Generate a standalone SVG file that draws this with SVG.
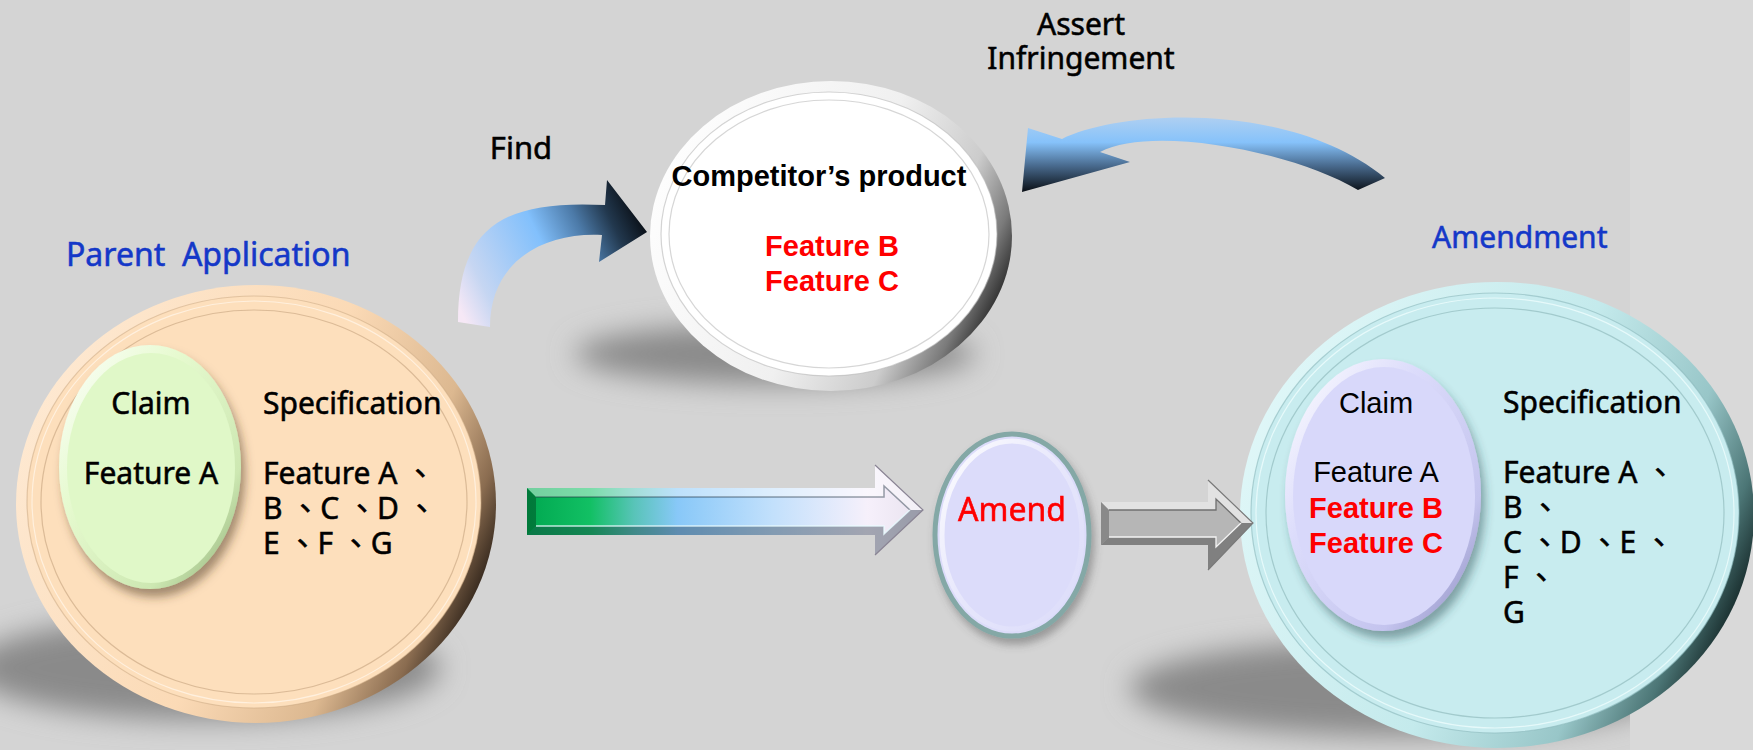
<svg xmlns="http://www.w3.org/2000/svg" width="1753" height="750" viewBox="0 0 1753 750">
<style>
  .sans{font-family:'Noto Sans','Noto Sans CJK TC',sans-serif;fill:#000;stroke:#000;stroke-width:0.55}
  .arial{font-family:'Liberation Sans',Arial,'Noto Sans CJK TC',sans-serif;fill:#000}
  .head{font-size:32px;fill:#1438c8;stroke:#1438c8}
  .lbl{font-size:30px}
  .bold{font-weight:bold}
  .red{fill:#ff0000;stroke:#ff0000}
  .arial.red{stroke:none}
  .mid{text-anchor:middle}
  .ring{fill:none;stroke-width:1.2}
  .shadow{fill:#8a8a8a}
</style>
<defs>
  <filter id="blur" x="-40%" y="-150%" width="180%" height="400%">
    <feGaussianBlur stdDeviation="14"/>
  </filter>
  <filter id="dropWarm" x="-20%" y="-20%" width="150%" height="150%">
    <feDropShadow dx="4" dy="8" stdDeviation="5" flood-color="#4a3820" flood-opacity="0.5"/>
  </filter>
  <filter id="dropCool" x="-20%" y="-20%" width="150%" height="150%">
    <feDropShadow dx="4" dy="8" stdDeviation="5" flood-color="#27474a" flood-opacity="0.45"/>
  </filter>
  <filter id="dropSmall" x="-20%" y="-20%" width="150%" height="150%">
    <feDropShadow dx="3" dy="6" stdDeviation="4" flood-color="#505050" flood-opacity="0.45"/>
  </filter>

  <!-- rim shading: light at upper left, dark at lower right -->
  <linearGradient id="rimPeach" x1="0" y1="0.2" x2="1" y2="0.6">
    <stop offset="0" stop-color="#feead4"/>
    <stop offset="0.55" stop-color="#fbdab6"/>
    <stop offset="0.8" stop-color="#dcb890"/>
    <stop offset="0.93" stop-color="#8a6c50"/>
    <stop offset="1" stop-color="#3a2c20"/>
  </linearGradient>
  <linearGradient id="rimWhite" x1="0" y1="0.2" x2="1" y2="0.6">
    <stop offset="0" stop-color="#ffffff"/>
    <stop offset="0.55" stop-color="#f0f0f0"/>
    <stop offset="0.8" stop-color="#cccccc"/>
    <stop offset="0.93" stop-color="#7a7a7a"/>
    <stop offset="1" stop-color="#353535"/>
  </linearGradient>
  <linearGradient id="rimCyan" x1="0" y1="0.2" x2="1" y2="0.6">
    <stop offset="0" stop-color="#e2f8f9"/>
    <stop offset="0.55" stop-color="#c4eaec"/>
    <stop offset="0.8" stop-color="#98c6c8"/>
    <stop offset="0.93" stop-color="#4c7676"/>
    <stop offset="1" stop-color="#1c3232"/>
  </linearGradient>
  <linearGradient id="rimGreen" x1="0" y1="0" x2="1" y2="1">
    <stop offset="0" stop-color="#ffffff"/>
    <stop offset="0.35" stop-color="#e6facf"/>
    <stop offset="0.75" stop-color="#cde8b2"/>
    <stop offset="1" stop-color="#88a870"/>
  </linearGradient>
  <linearGradient id="rimLilac" x1="0" y1="0" x2="1" y2="1">
    <stop offset="0" stop-color="#ffffff"/>
    <stop offset="0.35" stop-color="#dcdcfb"/>
    <stop offset="0.75" stop-color="#c4c4ee"/>
    <stop offset="1" stop-color="#8484b8"/>
  </linearGradient>
  <linearGradient id="glint" x1="0" y1="0" x2="1" y2="1">
    <stop offset="0" stop-color="#ffffff" stop-opacity="0.95"/>
    <stop offset="0.5" stop-color="#ffffff" stop-opacity="0.3"/>
    <stop offset="1" stop-color="#ffffff" stop-opacity="0"/>
  </linearGradient>

  <!-- connector fills -->
  <linearGradient id="gradFind" gradientUnits="userSpaceOnUse" x1="460" y1="310" x2="645" y2="220">
    <stop offset="0" stop-color="#f6e8f6"/>
    <stop offset="0.15" stop-color="#c6d6f2"/>
    <stop offset="0.5" stop-color="#82c0fc"/>
    <stop offset="0.7" stop-color="#4c7aa8"/>
    <stop offset="0.85" stop-color="#22384e"/>
    <stop offset="1" stop-color="#080c12"/>
  </linearGradient>
  <linearGradient id="gradAssert" gradientUnits="userSpaceOnUse" x1="0" y1="110" x2="0" y2="195">
    <stop offset="0.03" stop-color="#b6d2f0"/>
    <stop offset="0.38" stop-color="#86c2fa"/>
    <stop offset="0.65" stop-color="#4a6c90"/>
    <stop offset="0.97" stop-color="#080c12"/>
  </linearGradient>
  <linearGradient id="gradBar" gradientUnits="userSpaceOnUse" x1="527" y1="0" x2="923" y2="0">
    <stop offset="0" stop-color="#00a850"/>
    <stop offset="0.16" stop-color="#12c064"/>
    <stop offset="0.27" stop-color="#58c4b8"/>
    <stop offset="0.38" stop-color="#88c8f8"/>
    <stop offset="0.62" stop-color="#c2e0fc"/>
    <stop offset="0.86" stop-color="#f6f0fb"/>
    <stop offset="1" stop-color="#e8e2ee"/>
  </linearGradient>
</defs>

<!-- backdrop -->
<rect width="1753" height="750" fill="#d4d4d4"/>

<!-- cast shadows -->
<g id="shadows" filter="url(#blur)">
  <ellipse class="shadow" cx="205" cy="668" rx="235" ry="52"/>
  <ellipse class="shadow" cx="775" cy="354" rx="200" ry="30"/>
  <ellipse class="shadow" cx="1400" cy="688" rx="270" ry="48"/>
</g>
<rect x="1630" y="0" width="123" height="750" fill="#d9d9d9"/>

<!-- Parent application disc -->
<g id="parent-application">
  <ellipse cx="256" cy="504" rx="240" ry="219" fill="url(#rimPeach)"/>
  <ellipse cx="254" cy="502" rx="227" ry="206" fill="#fddfbc" stroke="#c8a680" stroke-opacity="0.5" stroke-width="1.2"/>
  <ellipse class="ring" cx="254" cy="502" rx="222" ry="201" stroke="#fff4e6" stroke-opacity="0.8"/>
  <ellipse class="ring" cx="254" cy="502" rx="213" ry="192" stroke="#c09c78" stroke-opacity="0.55"/>
  <g id="parent-claim" filter="url(#dropWarm)">
    <ellipse cx="150" cy="467" rx="91" ry="122" fill="url(#rimGreen)"/>
    <ellipse cx="151" cy="468" rx="84" ry="115" fill="#e0f8c8"/>
  </g>
  <text class="sans head" x="66" y="266" style="white-space:pre">Parent  Application</text>
  <text class="sans lbl mid" x="151" y="414">Claim</text>
  <text class="sans lbl mid" x="151" y="484">Feature A</text>
  <text class="sans lbl" x="263" y="414">Specification</text>
  <text class="sans lbl" x="263" y="484">Feature A 、</text>
  <text class="sans lbl" x="263" y="519">B 、C 、D 、</text>
  <text class="sans lbl" x="263" y="554">E 、F 、G</text>
</g>

<!-- Competitor's product disc -->
<g id="competitor">
  <ellipse cx="831" cy="236" rx="181" ry="155" fill="url(#rimWhite)"/>
  <ellipse cx="829" cy="234" rx="168" ry="142" fill="#ffffff" stroke="#b8b8b8" stroke-opacity="0.6" stroke-width="1.2"/>
  <ellipse class="ring" cx="829" cy="234" rx="160" ry="134" stroke="#c4c4c4" stroke-opacity="0.7"/>
  <text class="arial bold mid" x="819" y="186" font-size="29">Competitor’s product</text>
  <text class="arial bold red mid" x="832" y="256" font-size="29">Feature B</text>
  <text class="arial bold red mid" x="832" y="291" font-size="29">Feature C</text>
</g>

<!-- Amend step -->
<g id="amend" filter="url(#dropSmall)">
  <ellipse cx="1012" cy="535" rx="77" ry="101" fill="#dcdcfa" stroke="#84a8a6" stroke-width="5"/>
  <ellipse cx="1012" cy="535" rx="70" ry="94" fill="none" stroke="url(#glint)" stroke-width="5"/>
  <text class="sans red mid" x="1012" y="521" font-size="32">Amend</text>
</g>

<!-- Amendment disc -->
<g id="amendment">
  <ellipse cx="1497" cy="515" rx="257" ry="233" fill="url(#rimCyan)"/>
  <ellipse cx="1495" cy="513" rx="244" ry="220" fill="#c8ecef" stroke="#8ab8ba" stroke-opacity="0.6" stroke-width="1.2"/>
  <ellipse class="ring" cx="1495" cy="513" rx="239" ry="215" stroke="#eefcfc" stroke-opacity="0.8"/>
  <ellipse class="ring" cx="1495" cy="513" rx="229" ry="205" stroke="#88b4b6" stroke-opacity="0.6"/>
  <g id="amendment-claim" filter="url(#dropCool)">
    <ellipse cx="1383" cy="495" rx="98" ry="136" fill="url(#rimLilac)"/>
    <ellipse cx="1384" cy="496" rx="91" ry="129" fill="#d8d8fa"/>
  </g>
  <text class="sans head" x="1432" y="248" style="font-size:30px">Amendment</text>
  <text class="arial mid" x="1376" y="413" font-size="29">Claim</text>
  <text class="arial mid" x="1376" y="482" font-size="29">Feature A</text>
  <text class="arial bold red mid" x="1376" y="518" font-size="29">Feature B</text>
  <text class="arial bold red mid" x="1376" y="553" font-size="29">Feature C</text>
  <text class="sans lbl" x="1503" y="413">Specification</text>
  <text class="sans lbl" x="1503" y="483">Feature A 、</text>
  <text class="sans lbl" x="1503" y="518">B 、</text>
  <text class="sans lbl" x="1503" y="553">C 、D 、E 、</text>
  <text class="sans lbl" x="1503" y="588">F 、</text>
  <text class="sans lbl" x="1503" y="623">G</text>
</g>

<!-- connectors -->
<g id="connectors">
  <!-- Find: curved arrow from parent disc to competitor -->
  <g id="find-arrow">
    <path d="M458,322 C458,225 505,200 605,205 L607,180 L647,232 L599,262 L602,235 C545,232 490,260 490,327 Z" fill="url(#gradFind)"/>
    <text class="sans mid" x="521" y="159" font-size="31">Find</text>
  </g>

  <!-- Assert infringement: curved arrow from amendment back to competitor -->
  <g id="assert-arrow">
    <path d="M1022,192 L1028,128 L1062,139 C1120,110 1290,100 1385,178 L1358,190 C1290,150 1150,125 1100,152 L1130,162 Z" fill="url(#gradAssert)"/>
    <text class="sans mid" x="1081" y="35" font-size="30">Assert</text>
    <text class="sans mid" x="1081" y="69" font-size="30">Infringement</text>
  </g>

  <!-- block arrow into the amend step -->
  <g id="arrow-to-amend">
    <path d="M527,488 L875,488 L875,465 L923,510 L875,555 L875,535 L527,535 Z" fill="url(#gradBar)"/>
    <path d="M527,488 L875,488 L875,465 L923,510 L910,510 L884,486 L884,497 L536,497 Z" fill="#ffffff" fill-opacity="0.45"/>
    <path d="M527,535 L875,535 L875,555 L923,510 L910,510 L884,534 L884,526 L536,526 Z" fill="#1a2a3a" fill-opacity="0.38"/>
    <path d="M527,488 L536,497 L536,526 L527,535 Z" fill="#004020" fill-opacity="0.45"/>
    <path d="M536,497 L884,497 L884,486 L910,510" fill="none" stroke="#203040" stroke-opacity="0.45" stroke-width="1.5"/>
    <path d="M536,526 L884,526 L884,534 L910,510" fill="none" stroke="#e8fbff" stroke-opacity="0.8" stroke-width="1.5"/>
    <path d="M875,465 L923,510 L875,555" fill="none" stroke="#8a8494" stroke-width="1.2"/>
  </g>

  <!-- block arrow into the amendment disc -->
  <g id="arrow-to-amendment">
    <path d="M1101,502 L1208,502 L1208,480 L1253,523 L1208,570 L1208,545 L1101,545 Z" fill="#b6b6b6"/>
    <path d="M1101,502 L1208,502 L1208,480 L1253,523 L1241,523 L1216,499 L1216,510 L1109,510 Z" fill="#f0f0f0" fill-opacity="0.75"/>
    <path d="M1101,545 L1208,545 L1208,570 L1253,523 L1241,523 L1216,547 L1216,537 L1109,537 Z" fill="#4a4a4a" fill-opacity="0.5"/>
    <path d="M1101,502 L1109,510 L1109,537 L1101,545 Z" fill="#6a6a6a" fill-opacity="0.6"/>
    <path d="M1109,510 L1216,510 L1216,499 L1241,523" fill="none" stroke="#707070" stroke-width="1.3"/>
    <path d="M1109,537 L1216,537 L1216,547 L1241,523" fill="none" stroke="#f4f4f4" stroke-width="1.3"/>
    <path d="M1208,480 L1253,523 L1208,570" fill="none" stroke="#7a7a7a" stroke-width="1.2"/>
  </g>
</g>
</svg>
